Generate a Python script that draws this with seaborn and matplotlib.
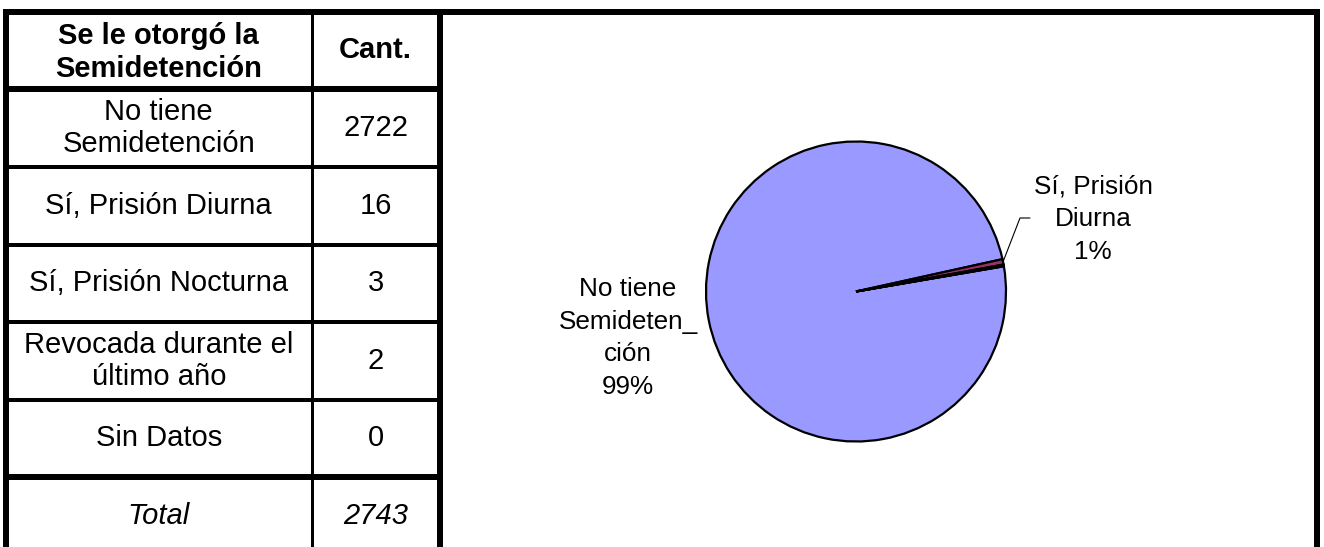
import matplotlib
matplotlib.use("Agg")
import matplotlib.pyplot as plt
import seaborn as sns
import numpy as np

# Data
categories = ["No tiene\nSemidetención", "Sí, Prisión Diurna", "Sí, Prisión Nocturna",
              "Revocada durante el\núltimo año", "Sin Datos"]
counts = [2722, 16, 3, 2, 0]
pie_names = ["No tiene\nSemideten_\nción", "Sí, Prisión\nDiurna", "Sí, Prisión\nNocturna",
             "Revocada durante\nel último año", "Sin Datos"]
header = ["Se le otorgó la\nSemidetención", "Cant."]
total_label = "Total"
slice_colors = ["#9999FF", "#993366", "#FFFFCC", "#CCFFFF", "#660066"]

sns.set_theme(style="white")
plt.rcParams["font.family"] = ["Liberation Sans", "DejaVu Sans"]
plt.rcParams["text.color"] = "black"

W, H = 1324, 547
fig = plt.figure(figsize=(W / 100, H / 100), dpi=100)
fig.patch.set_facecolor("white")

# Full-figure overlay in pixel units for the table and frame
frame = fig.add_axes([0, 0, 1, 1])
frame.set_xlim(0, W)
frame.set_ylim(H, 0)
frame.axis("off")

px = 0.72  # points per pixel at 100 dpi
thick, mid, thin = 6 * px, 4 * px, 3 * px

row_edges = [12, 89, 167, 244.5, 322, 400, 477, 555]
col_left, col_div, col_right = 6, 311.5, 440
fig_right = 1316.5

def seg(x0, y0, x1, y1, lw):
    frame.plot([x0, x1], [y0, y1], color="black", lw=lw,
               solid_capstyle="projecting", zorder=3)

# Outer frame
seg(col_left, 12, fig_right, 12, thick)
seg(col_left, 12, col_left, H + 5, thick)
seg(fig_right, 12, fig_right, H + 5, thick)
seg(col_right, 12, col_right, H + 5, thick)
seg(col_div, 12, col_div, H + 5, thin)
# Row separators
for i, y in enumerate(row_edges[1:-1], start=1):
    lw = thick if i in (1, len(row_edges) - 2) else mid
    seg(col_left, y, col_right, y, lw)

fs_table = 21
ls_table = 1.22
c1 = (col_left + col_div) / 2
c2 = (col_div + col_right) / 2

def cell_y(i):
    return (row_edges[i] + row_edges[i + 1]) / 2

frame.text(c1, cell_y(0) + 2, header[0], ha="center", va="center", fontsize=fs_table,
           fontweight="bold", linespacing=ls_table)
frame.text(c2, cell_y(0), header[1], ha="center", va="center", fontsize=fs_table,
           fontweight="bold")
for i, (cat, n) in enumerate(zip(categories, counts), start=1):
    frame.text(c1, cell_y(i), cat, ha="center", va="center", fontsize=fs_table,
               linespacing=ls_table)
    frame.text(c2, cell_y(i), f"{n}", ha="center", va="center", fontsize=fs_table)
total = int(np.sum(counts))
last = len(categories) + 1
frame.text(c1, cell_y(last), total_label, ha="center", va="center",
           fontsize=fs_table, style="italic")
frame.text(c2, cell_y(last), f"{total}", ha="center", va="center",
           fontsize=fs_table, style="italic")

# Pie chart
cx, cy, r = 856, 291.5, 150
lim = 1.03
half = r * lim
ax_pie = fig.add_axes([(cx - half) / W, (H - cy - half) / H, 2 * half / W, 2 * half / H])
wedges, _ = ax_pie.pie(counts, colors=slice_colors, startangle=9.7, counterclock=False,
                       wedgeprops=dict(edgecolor="black", linewidth=1.6))
ax_pie.set_xlim(-lim, lim)
ax_pie.set_ylim(-lim, lim)
ax_pie.set_aspect("equal")
ax_pie.axis("off")

pct = np.array(counts) / total * 100
fs_pie = 18.8
ls_pie = 1.45
frame.text(628, 338, f"{pie_names[0]}\n{pct[0]:.0f}%", ha="center", va="center",
           fontsize=fs_pie, linespacing=ls_pie)
frame.text(1093, 219, f"{pie_names[1]}\n{pct[1]:.0f}%", ha="center", va="center",
           fontsize=fs_pie, linespacing=ls_pie)

# Leader line for the small slice
w = wedges[1]
mid_ang = np.deg2rad((w.theta1 + w.theta2) / 2)
ex, ey = np.cos(mid_ang), np.sin(mid_ang)
elbow = ((1020 - cx) / r, (cy - 218) / r)
end = ((1030 - cx) / r, (cy - 218) / r)
ax_pie.plot([ex, elbow[0], end[0]], [ey, elbow[1], end[1]], color="black",
            lw=0.8, clip_on=False)

fig.savefig("out.png", dpi=100, facecolor="white")
